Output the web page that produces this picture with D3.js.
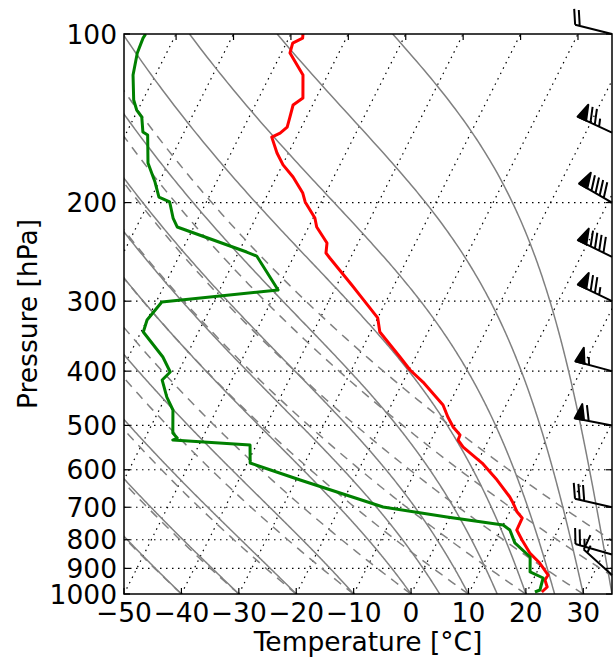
<!DOCTYPE html>
<html>
<head>
<meta charset="utf-8">
<script src="https://cdn.jsdelivr.net/npm/d3@7"></script>
<style>
    body { margin: 0; background: #fff; }
    #skewt { display: block; font-family: "DejaVu Sans", sans-serif; }
</style>
</head>
<body>
<svg id="skewt" width="614" height="659"></svg>
<script>
    // sounding
    const tempP = [100, 101.7, 103.8, 108.1, 118.4, 130.1, 133.9, 140.7, 146.6, 150.3, 152.8, 163.1, 171.3, 180, 192.3, 199.5, 213.1, 221.1, 236.2, 246.1, 251.2, 280.7, 296, 321.4, 340.5, 377.4, 398.1, 418.3, 459.6, 483, 503.3, 520.2, 530.9, 546.5, 583.6, 625.9, 671.1, 687.9, 714, 731.8, 768.7, 801.1, 845.1, 880.5, 924.9, 944.1, 971.6, 991.8];
    const tempC = [-67.9, -67.6, -68.9, -68.5, -64.3, -62.3, -63.4, -62.9, -62.5, -63.2, -64.3, -62.0, -59.9, -57.1, -54.0, -52.8, -49.7, -48.6, -45.4, -44.7, -43.6, -37.4, -34.5, -30.0, -28.4, -22.7, -19.8, -16.5, -11.0, -9.1, -7.3, -5.4, -5.3, -3.8, 0.9, 5.0, 8.7, 9.8, 11.3, 12.7, 12.8, 14.6, 17.1, 19.7, 22.2, 22.1, 23.1, 22.6];
    const dewP = [100, 101.7, 108.1, 118.4, 131.2, 136.7, 140.7, 149.6, 151.5, 169.9, 183.8, 195.5, 199.5, 213.1, 221.1, 245.1, 249.2, 286.5, 301, 324.1, 340.5, 377.4, 401.4, 414.9, 444.9, 469.3, 515.9, 526.6, 530.9, 542, 583.6, 625.9, 699.3, 728.8, 753.2, 768.7, 810.5, 858.8, 913.4, 936.3, 983.7, 991.8];
    const dewC = [-95.3, -95.4, -95.1, -93.9, -91.6, -90.2, -88.7, -87.2, -86.1, -83.6, -80.7, -78.7, -76.4, -74.4, -72.9, -58.6, -56.5, -49.8, -69.0, -70.0, -69.6, -64.0, -61.4, -62.1, -59.8, -57.6, -55.6, -54.4, -55.0, -41.1, -39.5, -29.3, -12.5, -0.5, 10.0, 11.6, 13.6, 17.5, 18.8, 21.6, 22.1, 21.4];

    // wind barbs on the right edge
    const barbP = [100, 150, 200, 250, 300, 400, 500, 700, 850, 925];
    const barbDir = [284, 295, 300, 296, 296, 285, 281, 283, 286, 312];
    const barbKt = [20, 75, 90, 90, 75, 55, 60, 30, 25, 15];

    const pressTicks = [100, 200, 300, 400, 500, 600, 700, 800, 900, 1000];
    const tempTicks = [-50, -40, -30, -20, -10, 0, 10, 20, 30];
    const isotherms = d3.range(-100, 40, 10);
    const dryT0 = [-50, -40, -30, -20, -10, 0, 10, 20, 30, 40, 50];
    const moistT0 = [-50, -40, -30, -20, -10, 0, 5, 10, 15, 20, 25, 30, 35];

    const axL = 124, axR = 612, axT = 34, axB = 594;
    const fontSize = 26.5;
    const svg = d3.select("#skewt");

    let x = d3.scaleLinear().domain([-50, 35]).range([axL, axR]);
    let y = d3.scaleLog().domain([1000, 100]).range([axB, axT]);
    // skew of 30 degrees applied in axes space
    let skew = (axR - axL) * Math.tan(30 * Math.PI / 180) / (axB - axT);
    let px = (t, p) => x(t) + skew * (axB - y(p));

    svg.append("clipPath").attr("id", "plot-clip")
        .append("rect").attr("x", axL).attr("y", axT)
        .attr("width", axR - axL).attr("height", axB - axT);

    let plot = svg.append("g").attr("clip-path", "url(#plot-clip)");

    // isotherms and pressure grid
    plot.selectAll(".iso").data(isotherms).enter().append("line")
        .attr("x1", t => px(t, 1000)).attr("y1", y(1000))
        .attr("x2", t => px(t, 100)).attr("y2", y(100))
        .attr("stroke", "#000").attr("stroke-width", 1.2)
        .attr("stroke-dasharray", "1.5,4.5");
    plot.selectAll(".pgrid").data(pressTicks.slice(1, -1)).enter().append("line")
        .attr("x1", axL).attr("x2", axR)
        .attr("y1", p => y(p)).attr("y2", p => y(p))
        .attr("stroke", "#000").attr("stroke-width", 1.2)
        .attr("stroke-dasharray", "1.5,4.5");

    let levels = d3.range(1000, 99, -10);
    let line = d3.line().x(d => px(d[1], d[0])).y(d => y(d[0]));

    // dry adiabats
    let dry = dryT0.map(t0 => levels.map(p => [p, (t0 + 273.15) * Math.pow(p / 1000, 287.04 / 1005.7) - 273.15]));
    plot.selectAll(".dry").data(dry).enter().append("path")
        .attr("d", line).attr("fill", "none")
        .attr("stroke", "#808080").attr("stroke-width", 1.5)
        .attr("stroke-dasharray", "9,7");

    // moist adiabats, integrated from 1000 hPa
    function dTdp(t, p) {
        let tc = t - 273.15;
        let es = 6.112 * Math.exp(17.67 * tc / (tc + 243.5));
        let rs = 0.622 * es / (p - es);
        let frac = (287.04 * t + 2.501e6 * rs) / (1005.7 + 2.501e6 * 2.501e6 * rs * 0.622 / (287.04 * t * t));
        return frac / p;
    }
    function moistLapse(t0) {
        let t = t0 + 273.15, p = 1000, h = -2;
        let out = [[p, t0]];
        while (p > 100) {
            let k1 = dTdp(t, p);
            let k2 = dTdp(t + h * k1 / 2, p + h / 2);
            let k3 = dTdp(t + h * k2 / 2, p + h / 2);
            let k4 = dTdp(t + h * k3, p + h);
            t += h * (k1 + 2 * k2 + 2 * k3 + k4) / 6;
            p += h;
            out.push([p, t - 273.15]);
        }
        return out;
    }
    plot.selectAll(".moist").data(moistT0.map(moistLapse)).enter().append("path")
        .attr("d", line).attr("fill", "none")
        .attr("stroke", "#808080").attr("stroke-width", 1.5);

    // sounding
    let tempData = tempP.map((p, i) => [p, tempC[i]]);
    let dewData = dewP.map((p, i) => [p, dewC[i]]);
    plot.append("path").datum(tempData).attr("d", line)
        .attr("fill", "none").attr("stroke", "#ff0000").attr("stroke-width", 3)
        .attr("stroke-linejoin", "round");
    plot.append("path").datum(dewData).attr("d", line)
        .attr("fill", "none").attr("stroke", "#008000").attr("stroke-width", 3)
        .attr("stroke-linejoin", "round");

    // frame and ticks
    svg.append("rect").attr("x", axL).attr("y", axT)
        .attr("width", axR - axL).attr("height", axB - axT)
        .attr("fill", "none").attr("stroke", "#000").attr("stroke-width", 1.5);

    let tickLen = 6;
    let ticks = svg.append("g").attr("stroke", "#000").attr("stroke-width", 1.2);
    tempTicks.forEach(t => {
        ticks.append("line").attr("x1", x(t)).attr("x2", x(t))
            .attr("y1", axB).attr("y2", axB - tickLen);
    });
    isotherms.forEach(t => {
        let xt = px(t, 100);
        if (xt > axL && xt < axR) {
            ticks.append("line").attr("x1", xt).attr("x2", xt)
                .attr("y1", axT).attr("y2", axT + tickLen);
        }
    });
    pressTicks.forEach(p => {
        ticks.append("line").attr("x1", axL).attr("x2", axL + tickLen)
            .attr("y1", y(p)).attr("y2", y(p));
        ticks.append("line").attr("x1", axR).attr("x2", axR - tickLen)
            .attr("y1", y(p)).attr("y2", y(p));
    });

    let fmt = t => (t < 0 ? "\u2212" : "") + Math.abs(t);
    svg.selectAll(".xlab").data(tempTicks).enter().append("text")
        .attr("x", t => x(t)).attr("y", 622)
        .attr("text-anchor", "middle").attr("font-size", fontSize)
        .text(fmt);
    svg.selectAll(".ylab").data(pressTicks).enter().append("text")
        .attr("x", 117).attr("y", p => y(p)).attr("dy", "0.36em")
        .attr("text-anchor", "end").attr("font-size", fontSize)
        .text(p => p);

    svg.append("text").attr("x", (axL + axR) / 2).attr("y", 651)
        .attr("text-anchor", "middle").attr("font-size", fontSize)
        .text("Temperature [\u00b0C]");
    svg.append("text").attr("transform", `translate(36.5,${(axT + axB) / 2}) rotate(-90)`)
        .attr("text-anchor", "middle").attr("font-size", fontSize)
        .text("Pressure [hPa]");

    // wind barbs, staff from the right edge toward where the wind comes from
    let L = 38, spacing = L * 0.125, fullH = L * 0.4, fullW = L * 0.25;
    let barbs = svg.append("g");
    barbP.forEach((p, i) => {
        let a = barbDir[i] * Math.PI / 180;
        let d = [Math.sin(a), -Math.cos(a)];
        let n = [-d[1], d[0]];
        let bx = axR, by = y(p);
        let at = (s, h) => [bx + d[0] * s + n[0] * h, by + d[1] * s + n[1] * h];
        let spd = Math.round(barbKt[i] / 5) * 5;
        let flags = Math.floor(spd / 50), rest = spd % 50;
        let full = Math.floor(rest / 10), half = rest % 10 >= 5;
        let path = d3.path();
        let p0 = at(0, 0), p1 = at(L, 0);
        path.moveTo(p0[0], p0[1]);
        path.lineTo(p1[0], p1[1]);
        let off = L;
        let polys = [];
        for (let k = 0; k < flags; k++) {
            if (off !== L) off -= spacing / 2;
            polys.push([at(off, 0), at(off - fullW / 2, fullH), at(off - fullW, 0)]);
            off -= fullW + spacing;
        }
        for (let k = 0; k < full; k++) {
            let a0 = at(off, 0), a1 = at(off + fullW / 2, fullH);
            path.moveTo(a0[0], a0[1]);
            path.lineTo(a1[0], a1[1]);
            off -= spacing;
        }
        if (half) {
            if (off === L) off -= 1.5 * spacing;
            let a0 = at(off, 0), a1 = at(off + fullW / 4, fullH / 2);
            path.moveTo(a0[0], a0[1]);
            path.lineTo(a1[0], a1[1]);
        }
        barbs.append("path").attr("d", path.toString())
            .attr("fill", "none").attr("stroke", "#000").attr("stroke-width", 2);
        polys.forEach(pl => {
            barbs.append("polygon").attr("points", pl.map(q => q.join(",")).join(" "))
                .attr("fill", "#000").attr("stroke", "#000").attr("stroke-width", 2)
                .attr("stroke-linejoin", "round");
        });
    });
</script>
</body>
</html>
